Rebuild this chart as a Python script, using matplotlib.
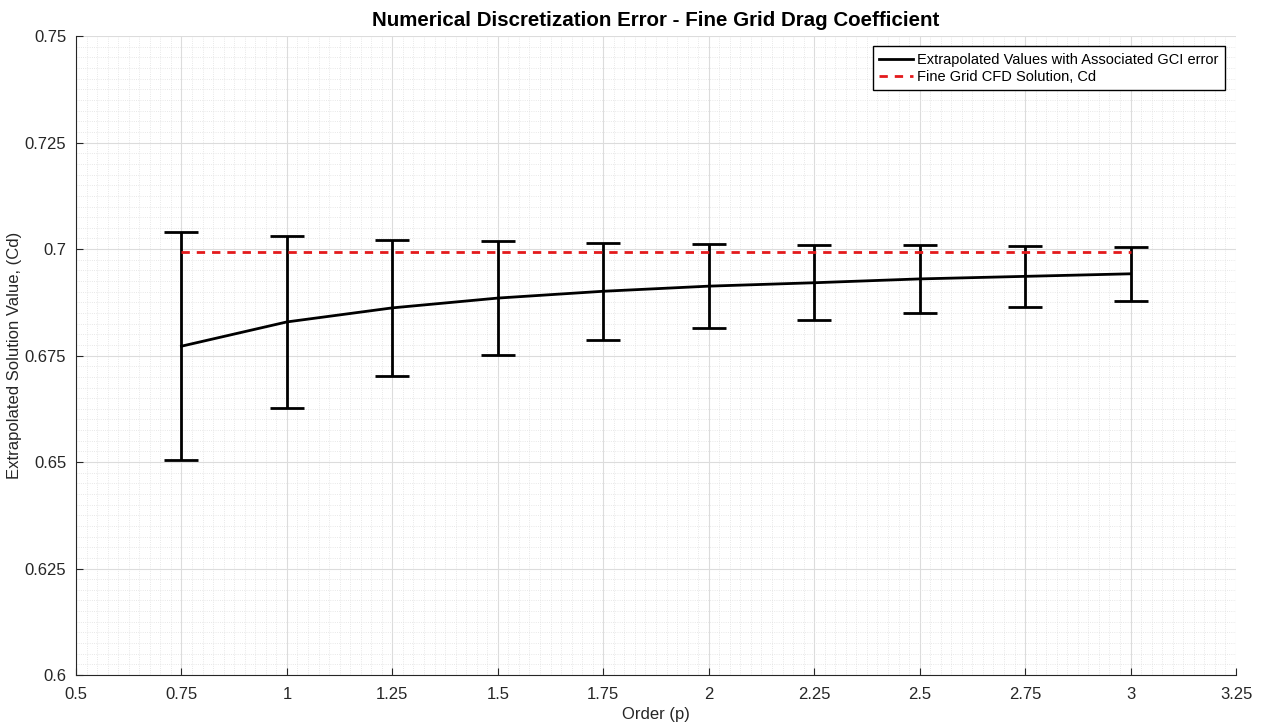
import numpy as np
import matplotlib.pyplot as plt
from matplotlib.ticker import MultipleLocator
from matplotlib.lines import Line2D

plt.rcParams['font.family'] = ['Liberation Sans', 'DejaVu Sans']

# order of accuracy p
order = [0.75, 1.0, 1.25, 1.5, 1.75, 2.0, 2.25, 2.5, 2.75, 3.0]
# extrapolated drag coefficient
cd_ext = [0.6772, 0.6829, 0.6862, 0.6885, 0.6901, 0.6913, 0.6921, 0.6930, 0.6936, 0.6942]
# GCI error band (half width)
gci_err = [0.0267, 0.0201, 0.0160, 0.0134, 0.0114, 0.0099, 0.0088, 0.0079, 0.0071, 0.0064]
# fine grid solution
cd_fine = 0.6993

xticks = [0.5, 0.75, 1, 1.25, 1.5, 1.75, 2, 2.25, 2.5, 2.75, 3, 3.25]
xlabels = ['0.5', '0.75', '1', '1.25', '1.5', '1.75', '2', '2.25', '2.5', '2.75', '3', '3.25']
yticks = [0.6, 0.625, 0.65, 0.675, 0.7, 0.725, 0.75]
ylabels = ['0.6', '0.625', '0.65', '0.675', '0.7', '0.725', '0.75']

fig = plt.figure(figsize=(12.62, 7.23), dpi=100)
ax = fig.add_axes([0.0602, 0.0664, 0.9192, 0.8836])

ax.errorbar(order, cd_ext, yerr=gci_err, color='black', linewidth=2, capsize=12,
            capthick=2, elinewidth=2)
ax.plot([order[0], order[-1]], [cd_fine, cd_fine], color='#e31a1c', linestyle='--',
        linewidth=2, dashes=(3, 2.5))

ax.set_xlim(0.5, 3.25)
ax.set_ylim(0.6, 0.75)
ax.set_xticks(xticks)
ax.set_xticklabels(xlabels)
ax.set_yticks(yticks)
ax.set_yticklabels(ylabels)
ax.xaxis.set_minor_locator(MultipleLocator(0.025))
ax.yaxis.set_minor_locator(MultipleLocator(0.0025))

ax.grid(True, which='major', color='#dcdcdc', linewidth=0.8)
ax.grid(True, which='minor', color='#e0e0e0', linewidth=0.6, linestyle=':')
ax.set_axisbelow(True)
ax.tick_params(which='major', direction='in', length=5, labelsize=12, colors='#262626',
               top=False, right=False)
ax.tick_params(axis='x', which='major', pad=9)
ax.tick_params(axis='y', which='major', pad=7)
ax.tick_params(which='minor', length=0)
for s in ['top', 'right']:
    ax.spines[s].set_visible(False)
for s in ['left', 'bottom']:
    ax.spines[s].set_color('#262626')

ax.set_title('Numerical Discretization Error - Fine Grid Drag Coefficient',
             fontsize=14.8, fontweight='bold', pad=7)
ax.set_xlabel('Order (p)', fontsize=12, color='#262626', labelpad=3)
ax.set_ylabel('Extrapolated Solution Value, (Cd)', fontsize=12, color='#262626', labelpad=2)

handles = [Line2D([], [], color='black', linewidth=2),
           Line2D([], [], color='#e31a1c', linestyle='--', linewidth=2, dashes=(3, 2.5))]
names = ['Extrapolated Values with Associated GCI error', 'Fine Grid CFD Solution, Cd']
leg = ax.legend(handles, names, loc='upper right', fontsize=10.5, fancybox=False,
                framealpha=1, edgecolor='black', borderaxespad=0, handlelength=2.3,
                handletextpad=0.3, borderpad=0.45, labelspacing=0.2,
                bbox_to_anchor=(0.9905, 0.984))
leg.get_frame().set_linewidth(1)

fig.savefig('out.png', dpi=100)
